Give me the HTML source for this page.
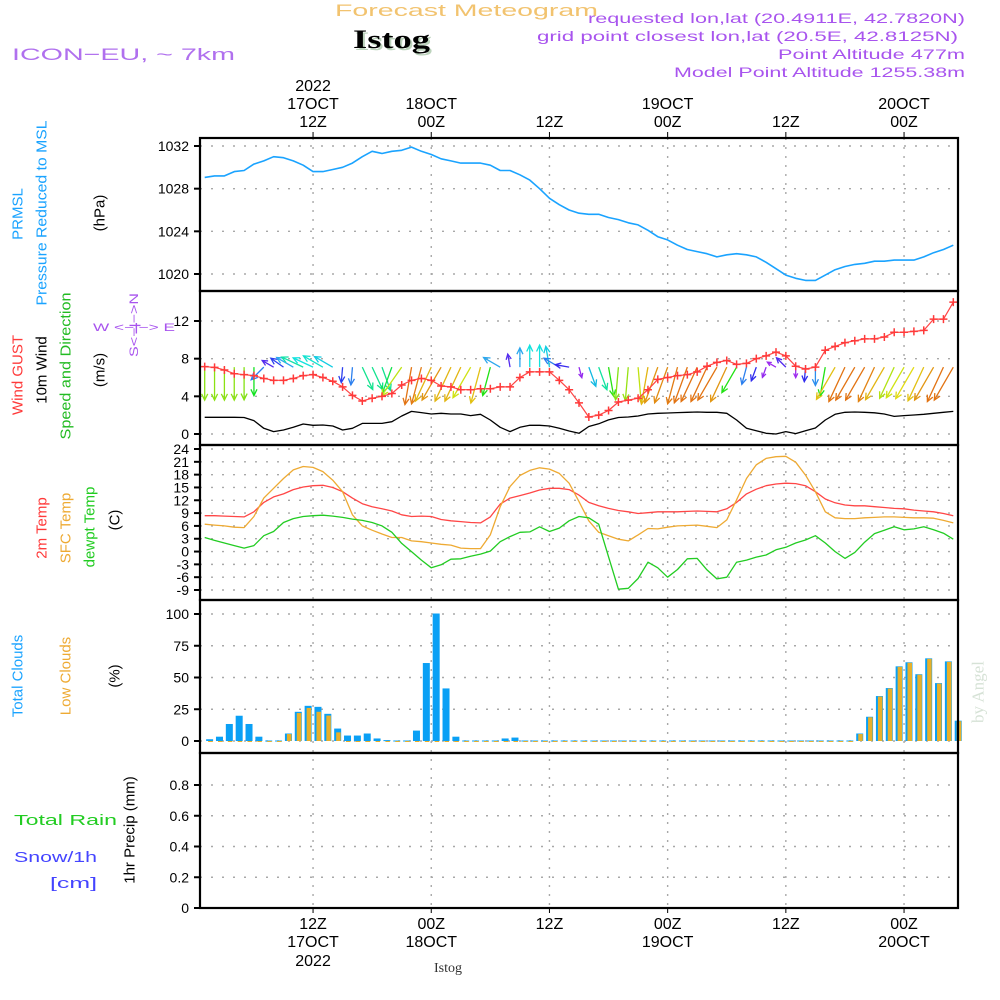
<!DOCTYPE html>
<html><head><meta charset="utf-8"><style>
html,body{margin:0;padding:0;background:#fff;}
svg{display:block;font-family:"Liberation Sans",sans-serif;}
</style></head><body>
<svg id="chart" width="1000" height="1000" viewBox="0 0 1000 1000">
<text x="335" y="16" textLength="263" lengthAdjust="spacingAndGlyphs" font-size="17" fill="#f2c36f">Forecast Meteogram</text>
<text x="355" y="50" textLength="77" lengthAdjust="spacingAndGlyphs" font-size="26" font-weight="bold" font-family="Liberation Serif, serif" fill="#bcd3bc">Istog</text>
<text x="353" y="48" textLength="77" lengthAdjust="spacingAndGlyphs" font-size="26" font-weight="bold" font-family="Liberation Serif, serif" fill="#000">Istog</text>
<text x="12" y="60" textLength="223" lengthAdjust="spacingAndGlyphs" font-size="17" fill="#b070ee">ICON−EU, ~ 7km</text>
<g font-size="14" fill="#a854ee">
<text x="588" y="23" textLength="377" lengthAdjust="spacingAndGlyphs">requested lon,lat (20.4911E, 42.7820N)</text>
<text x="537" y="41" textLength="421" lengthAdjust="spacingAndGlyphs">grid point closest lon,lat (20.5E, 42.8125N)</text>
<text x="778" y="59" textLength="187" lengthAdjust="spacingAndGlyphs">Point Altitude 477m</text>
<text x="674" y="77" textLength="291" lengthAdjust="spacingAndGlyphs">Model Point Altitude 1255.38m</text>
</g>
<text x="978" y="692" transform="rotate(-90 978 692)" text-anchor="middle" font-size="17" font-family="Liberation Serif, serif" fill="#d6e2d6" dominant-baseline="central">by Angel</text>
<g id="labels"></g>
<g id="grid"></g>
<g id="marks"></g>
<g id="frames"></g>
<g id="axes"></g>
</svg>
<script>
// ---- data (hourly from 01Z 17 OCT 2022) ----
const pressure = [1029.06,1029.2,1029.2,1029.6,1029.7,1030.3,1030.6,1031.0,1030.9,1030.6,1030.2,1029.6,1029.6,1029.8,1030.0,1030.4,1031.0,1031.5,1031.3,1031.5,1031.6,1031.9,1031.5,1031.2,1030.8,1030.6,1030.4,1030.4,1030.4,1030.2,1029.7,1029.7,1029.3,1028.8,1028.0,1027.1,1026.5,1026.0,1025.7,1025.6,
1025.6,1025.3,1025.1,1024.8,1024.6,1024.1,1023.5,1023.2,1022.7,1022.3,1022.1,1021.9,1021.6,1021.8,1021.9,1021.8,1021.6,1021.1,1020.5,1019.9,1019.6,1019.4,1019.4,1019.9,1020.4,1020.7,1020.9,1021.0,1021.2,1021.2,1021.3,1021.3,1021.3,1021.6,1022.0,1022.3,1022.7];
const gust = [7.15,7.08,6.8,6.4,6.3,6.2,5.9,5.7,5.7,5.9,6.2,6.3,6.0,5.6,5.0,4.1,3.5,3.8,4.0,4.3,5.2,5.7,5.9,5.7,5.1,5.0,4.7,4.7,4.8,4.8,5.0,5.0,6.0,6.6,6.6,6.6,5.7,4.7,3.3,1.8,
2.0,2.5,3.4,3.6,3.8,4.7,5.8,6.0,6.2,6.3,6.6,7.2,7.6,7.8,7.4,7.5,8.0,8.3,8.7,8.3,7.2,6.9,7.1,8.9,9.3,9.7,9.9,10.1,10.1,10.3,10.8,10.8,10.9,11.0,12.2,12.2,14.0];
const windSpeed = [1.77,1.77,1.77,1.77,1.75,1.42,0.6,0.25,0.42,0.71,1.06,0.92,0.96,0.85,0.42,0.6,1.13,1.13,1.13,1.31,1.91,2.4,2.27,2.12,2.2,2.12,2.12,1.95,2.09,1.49,0.71,0.25,0.71,0.92,0.92,0.85,0.6,0.32,0.07,0.8,
1.08,1.5,1.75,1.8,1.91,2.12,2.2,2.23,2.27,2.3,2.34,2.3,2.3,2.2,1.49,0.6,0.35,0.07,0,0.25,0.04,0.35,0.64,1.49,2.09,2.3,2.34,2.3,2.25,2.12,1.87,1.95,2.02,2.09,2.2,2.3,2.4];
const windDir = [180,180,180,180,180,180,225,300,305,300,295,295,300,300,185,185,155,155,160,200,215,190,195,205,210,205,205,210,195,195,300,350,0,0,0,350,300,280,165,160,
160,170,185,185,175,190,200,200,195,200,205,205,210,205,210,195,200,200,300,315,180,185,180,190,210,205,210,210,205,210,205,210,210,205,210,205,210];
const temp2m = [8.4,8.4,8.3,8.2,8.1,9.3,11.5,12.8,13.5,14.5,15.1,15.4,15.5,15.0,14.0,12.5,11.2,10.5,10.0,9.5,8.6,8.2,8.3,8.2,7.5,7.2,7.0,6.8,6.7,8.1,11.1,12.5,13.1,13.7,14.4,14.8,14.8,14.5,13.2,11.5,
10.7,10.1,9.6,9.3,8.9,9.1,9.3,9.3,9.3,9.4,9.5,9.4,9.3,10.0,11.5,13.5,14.6,15.4,15.8,16.0,15.9,15.4,14.0,12.3,11.4,10.9,10.7,10.7,10.5,10.3,10.1,10.0,9.7,9.5,9.3,8.9,8.4];
const tempSfc = [6.4,6.2,6.0,5.7,5.6,8.2,12.5,14.8,17.1,19.1,19.9,19.7,18.7,16.7,14.0,8.6,6.0,5.0,4.1,3.3,3.3,2.5,2.3,2.0,1.7,1.5,0.8,0.7,0.7,3.9,10.5,15.2,17.8,19.0,19.6,19.3,18.3,16.0,11.7,7.2,
4.5,3.7,2.9,2.5,3.9,5.4,5.3,5.7,6.0,6.1,6.2,5.9,5.6,7.4,12.1,17.1,20.3,21.8,22.2,22.3,20.9,17.9,14.0,9.3,7.9,7.7,7.7,7.9,8.0,8.1,8.1,8.0,7.9,7.9,7.8,7.3,6.7];
const dewpoint = [3.3,2.6,2.0,1.4,0.8,1.4,3.7,4.7,6.8,7.7,8.2,8.4,8.5,8.3,8.0,7.6,7.3,6.8,6.0,4.5,1.9,0.0,-2.0,-3.8,-3.1,-1.8,-1.7,-1.1,-0.6,0.1,2.3,3.5,4.5,4.6,5.8,4.7,5.5,7.2,8.2,7.9,
6.4,-1.2,-8.8,-8.6,-6.3,-2.5,-3.8,-6.0,-4.2,-1.7,-1.6,-4.3,-6.4,-6.0,-2.5,-2.0,-1.3,-0.8,0.4,1.0,2.0,2.7,3.7,2.0,0.0,-1.6,-0.2,2.2,4.2,5.0,5.8,5.1,5.3,5.8,5.1,4.3,2.9];
const totalClouds = [1,3,13,19.5,13,3,0,0,5.5,22.6,27.3,26.5,21,9.4,3.9,3.9,5.5,1.6,0.3,0,0,7.8,61,100,41,3,0,0,0,0,1.6,2.3,
0,0,0,0,0,0,0,0,0,0,0,0,0,0,0,0,0,0,0,0,0,0,0,0,0,0,0,0,0,0,0,0,0,0,
5.5,18.7,35,41.3,58.4,61.6,52.2,64.7,45.2,62.3,15.6];
const lowClouds = [0,0,0,0,0,0,0,0,5.5,22,26,23,20,6.8,0,0,0,0,0,0,0,0,0,0,0,0,0,0,0,0,0,0,
0,0,0,0,0,0,0,0,0,0,0,0,0,0,0,0,0,0,0,0,0,0,0,0,0,0,0,0,0,0,0,0,0,0,
5.5,18.7,35,41.3,58.4,61.6,52.2,64.7,45.2,62.3,15.6];
const precip = new Array(77).fill(0);
const pressureTicks = [1020,1024,1028,1032];
const windTicks = [0,4,8,12];
const tempTicks = [-9,-6,-3,0,3,6,9,12,15,18,21,24];
const cloudTicks = [0,25,50,75,100];
const precipTicks = [0,0.2,0.4,0.6,0.8];
const timeHours = [11,23,35,47,59,71];
const timeTopDay = ["17OCT","18OCT","","19OCT","","20OCT"];
const timeHourLabel = ["12Z","00Z","12Z","00Z","12Z","00Z"];

// ---- scales ----
const X0=204.7, DX=9.85, L=200, R=958;
const xH = h => X0 + DX*h;
const yP = v => 146 + (1032-v)*10.667;
const yW = v => 434 - v*9.417;
const yT = v => 449 + (24-v)*4.273;
const yC = v => 741 - v*1.27;
const yR = v => 908 - v*153.75;
const panels = [[138,291],[291,445],[445,600],[600,753],[753,908]];
const NS='http://www.w3.org/2000/svg';
function mk(tag, attrs, parent){const e=document.createElementNS(NS,tag);for(const k in attrs)e.setAttribute(k,attrs[k]);parent.appendChild(e);return e;}
const gGrid=document.getElementById('grid'), gMarks=document.getElementById('marks'), gFr=document.getElementById('frames'), gAx=document.getElementById('axes'), gLab=document.getElementById('labels');

function hgrid(ticks, ys, top, bot){
  ticks.forEach(t=>{const y=ys(t); if(y>top+2&&y<bot-2){const l=mk('line',{x1:L,x2:R,y1:y,y2:y,stroke:'#a8a8a8','stroke-width':1.4,'stroke-dasharray':'2,9'},gGrid);
  
  }});
}
hgrid(pressureTicks,yP,138,291);hgrid(windTicks,yW,291,445);hgrid(tempTicks,yT,445,600);hgrid(cloudTicks,yC,600,753);hgrid(precipTicks,yR,753,908);
timeHours.forEach(h=>{const l=mk('line',{x1:xH(h),x2:xH(h),y1:138,y2:908,stroke:'#a8a8a8','stroke-width':1.4,'stroke-dasharray':'2,7'},gGrid);
  
  });

function line(arr, ys, color, name, w){
  const d=arr.map((v,i)=>(i?'L':'M')+xH(i).toFixed(1)+','+ys(v).toFixed(1)).join('');
  const p=mk('path',{d:d,fill:'none',stroke:color,'stroke-width':w||1.3,'stroke-linejoin':'round'},gMarks);
  
  
}
line(pressure,yP,'#1aa3ff','pressure-line',1.6);
line(windSpeed,yW,'#000','wind-speed-line',1.3);
const arrowBase = yW(7.1);
windDir.forEach((dir,i)=>{
  const s=windSpeed[i];
  let hue=Math.max(28,Math.min(275,280-s*110));
  const col='hsl('+hue+',85%,'+(hue>200?55:48)+'%)';
  const len=Math.min(38,10+13*s);
  const a=dir*Math.PI/180;
  const x1=xH(i), y1=arrowBase;
  const x2=x1+Math.sin(a)*len, y2=y1-Math.cos(a)*len;
  const ha=0.45, hl=Math.min(7,len*0.45);
  const g=mk('g',{stroke:col,'stroke-width':1.3,fill:'none'},gMarks);
  
  
  mk('line',{x1:x1,y1:y1,x2:x2,y2:y2},g);
  const p1x=x2-Math.sin(a-ha)*hl, p1y=y2+Math.cos(a-ha)*hl;
  const p2x=x2-Math.sin(a+ha)*hl, p2y=y2+Math.cos(a+ha)*hl;
  mk('path',{d:'M'+p1x+','+p1y+'L'+x2+','+y2+'L'+p2x+','+p2y},g);
});
line(gust,yW,'#ff4444','gust-line',1.2);
gust.forEach((v,i)=>{const x=xH(i),y=yW(v);
  const m=mk('path',{d:'M'+(x-4)+','+y+'h8M'+x+','+(y-4)+'v8',stroke:'#ff3a3a','stroke-width':1.5},gMarks);
  
  });
line(temp2m,yT,'#ff4646','temp-2m-line',1.3);
line(tempSfc,yT,'#eeaa33','temp-sfc-line',1.3);
line(dewpoint,yT,'#22cc22','dewpoint-line',1.3);
totalClouds.forEach((v,i)=>{const xc=xH(i+0.5);
  const b=mk('rect',{x:xc-3.5,y:yC(v)-0.5,width:7,height:Math.max(1,741-yC(v)+0.5),fill:'#0aa0f5'},gMarks);
  
  
  const lv=lowClouds[i];
  const o=mk('rect',{x:xc-1.5,y:yC(lv),width:4.5,height:Math.max(1,741-yC(lv)),fill:'#e8b02a'},gMarks);
  
  
});
precip.forEach((v,i)=>{ if(v>0){const xc=xH(i+0.5);
  const b=mk('rect',{x:xc-3.5,y:yR(v),width:7,height:908-yR(v),fill:'#22cc22'},gMarks);
  
  }});

panels.forEach(([t,b],k)=>{const r=mk('rect',{x:L,y:t,width:R-L,height:b-t,fill:'none',stroke:'#000','stroke-width':2.2},gFr);
  
  });

function yaxis(ticks, ys, fmt, name){
  ticks.forEach(t=>{const y=ys(t);
    mk('line',{x1:194,x2:200,y1:y,y2:y,stroke:'#000','stroke-width':2},gAx);
    const tx=mk('text',{x:189,y:y+5,'text-anchor':'end','font-size':14,fill:'#000'},gAx);
    tx.textContent=fmt(t);
    
    });
}
yaxis(pressureTicks,yP,t=>t,'pressure');
yaxis(windTicks,yW,t=>t,'wind');
yaxis(tempTicks,yT,t=>t,'temp');
yaxis(cloudTicks,yC,t=>t,'cloud');
yaxis(precipTicks,yR,t=>t===0?'0':t.toFixed(1),'precip');

timeHours.forEach((h,k)=>{const x=xH(h);
  mk('line',{x1:x,x2:x,y1:132,y2:138,stroke:'#000','stroke-width':1},gAx);
  mk('line',{x1:x,x2:x,y1:908,y2:913,stroke:'#000','stroke-width':1},gAx);
  const a=mk('text',{x:x,y:127,'text-anchor':'middle','font-size':16,fill:'#000'},gAx);a.textContent=timeHourLabel[k];
  
  
  const b=mk('text',{x:x,y:929,'text-anchor':'middle','font-size':16,fill:'#000'},gAx);b.textContent=timeHourLabel[k];
  
  
  if(timeTopDay[k]){
    const c=mk('text',{x:x,y:109,'text-anchor':'middle','font-size':16,fill:'#000'},gAx);c.textContent=timeTopDay[k];
    
    
    const d=mk('text',{x:x,y:947,'text-anchor':'middle','font-size':16,fill:'#000'},gAx);d.textContent=timeTopDay[k];
    
    
  }
  if(k===0){
    const e=mk('text',{x:x,y:91,'text-anchor':'middle','font-size':16,fill:'#000'},gAx);e.textContent='2022';
    
    
    const f=mk('text',{x:x,y:966,'text-anchor':'middle','font-size':16,fill:'#000'},gAx);f.textContent='2022';
    
    
  }
});
const st=mk('text',{x:448,y:972,'text-anchor':'middle','font-size':14,'font-family':'Liberation Serif, serif',fill:'#333'},gAx);st.textContent='Istog';



function vlab(txt,x,y,col,name,size,tl){
  const t=mk('text',{x:x,y:y,transform:'rotate(-90 '+x+' '+y+')','text-anchor':'middle','dominant-baseline':'central','font-size':size||15,fill:col},gLab);
  if(tl){t.setAttribute('textLength',tl);t.setAttribute('lengthAdjust','spacingAndGlyphs');}
  t.textContent=txt;
  
  
}
vlab('PRMSL',18,214,'#1aa3ff','prmsl-label');
vlab('Pressure Reduced to MSL',42,213,'#1aa3ff','pressure-title',15,185);
vlab('(hPa)',100,213,'#000','pressure-unit');
vlab('Wind GUST',18,375,'#ff3a3a','gust-title');
vlab('10m Wind',42,370,'#000','wind-title');
vlab('Speed and Direction',66,366,'#22bb22','wind-dir-title',15,147);
vlab('(m/s)',100,370,'#000','wind-unit');
vlab('S<−|−>N',134,325,'#a854ee','compass-ns',12,64);
vlab('2m Temp',42,528,'#ff3a3a','temp-2m-title');
vlab('SFC Temp',66,528,'#eeaa33','temp-sfc-title');
vlab('dewpt Temp',90,527,'#22cc22','dewpoint-title');
vlab('(C)',115,520,'#000','temp-unit');
vlab('Total Clouds',18,676,'#1aa3ff','total-clouds-title');
vlab('Low Clouds',66,676,'#eeaa33','low-clouds-title');
vlab('(%)',115,676,'#000','cloud-unit');
vlab('1hr Precip (mm)',130,830,'#000','precip-title');
function hlab(txt,x,y,col,name,size,tl){
  const t=mk('text',{x:x,y:y,'font-size':size||15,fill:col},gLab);
  if(tl){t.setAttribute('textLength',tl);t.setAttribute('lengthAdjust','spacingAndGlyphs');}
  t.textContent=txt;
  
  
}
hlab('W  <−|−>  E',93,331,'#a854ee','compass-we',11,82);
hlab('Total  Rain',14,825,'#22cc22','rain-title',15,103);
hlab('Snow/1h',14,862,'#4444ff','snow-title',15,83);
hlab('[cm]',50,888,'#4444ff','snow-unit',15,47);
</script>
</body></html>
